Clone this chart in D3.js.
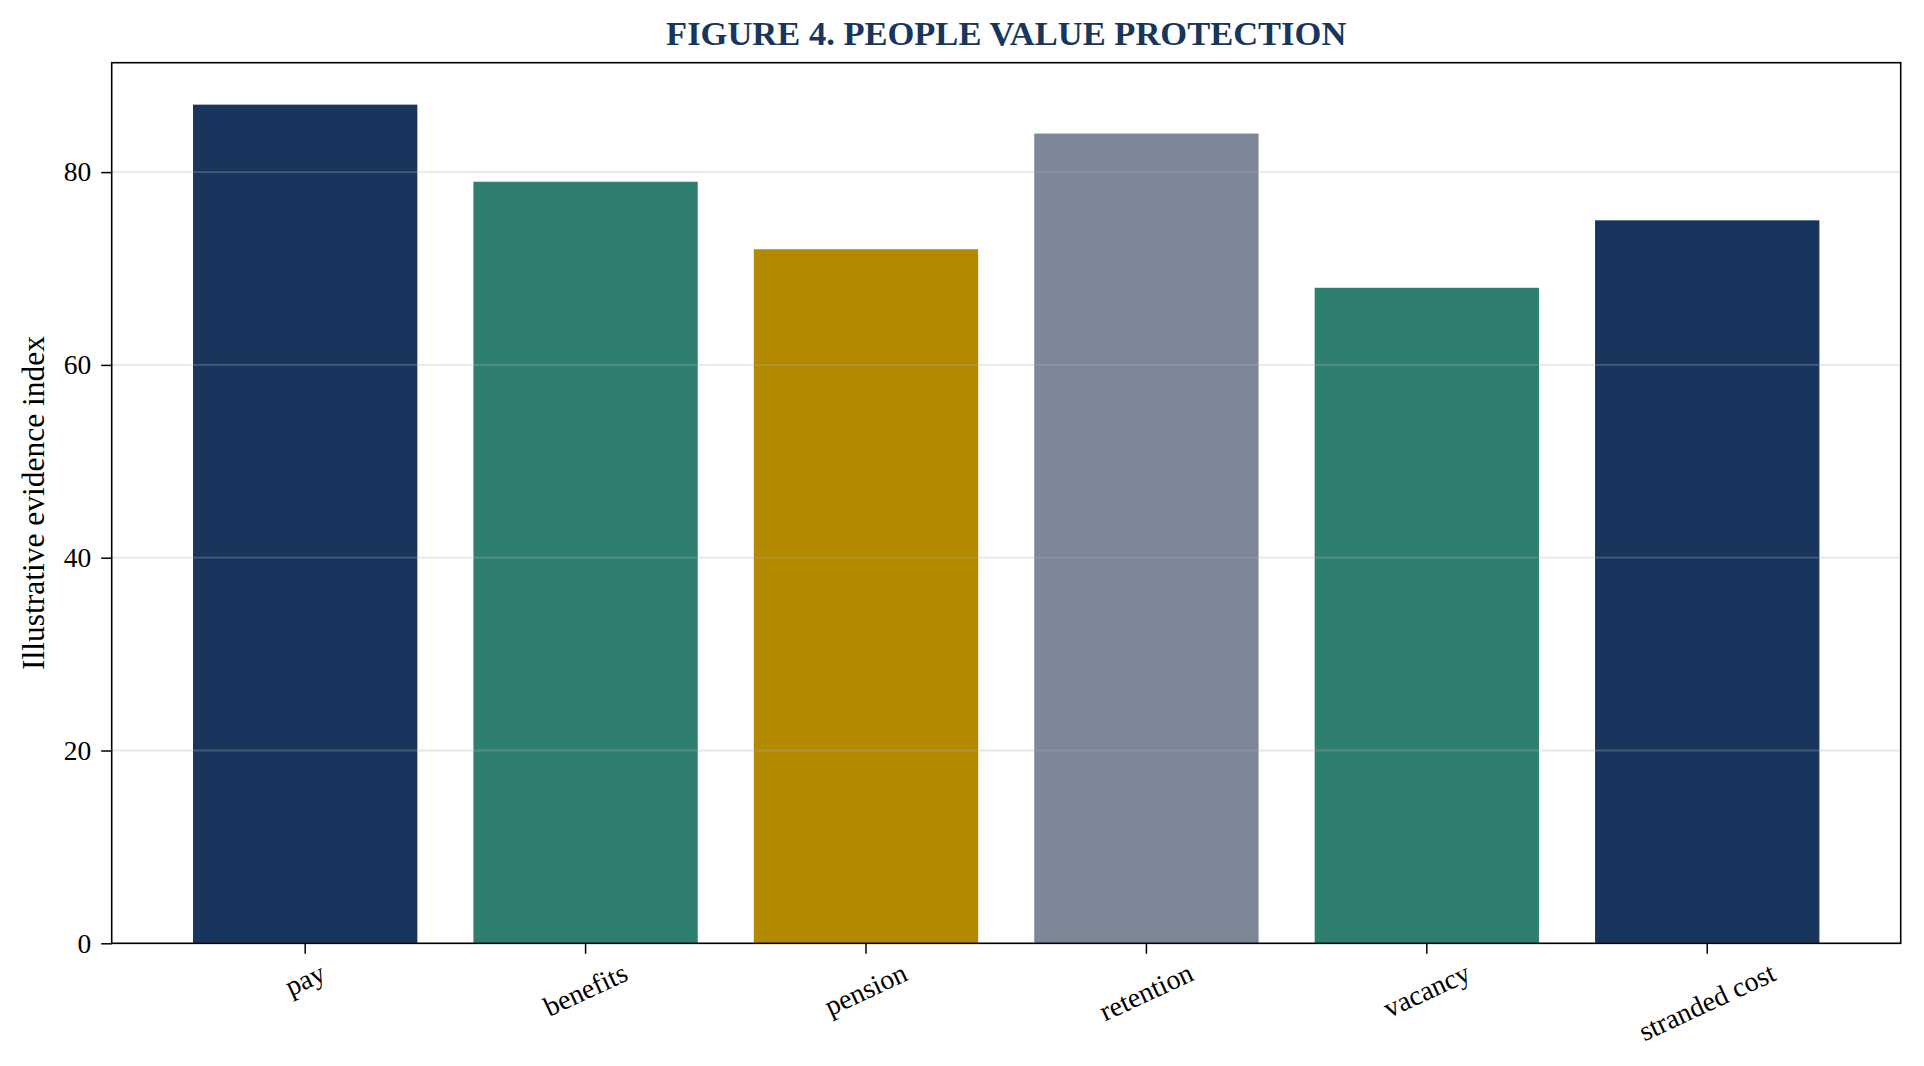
<!DOCTYPE html>
<html>
<head>
<meta charset="utf-8">
<script src="https://cdn.jsdelivr.net/npm/d3@7"></script>
<style>
  body { margin: 0; background: #fff; }
  text { font-family: "Liberation Serif", "Times New Roman", serif; fill: #000; }
</style>
</head>
<body>
<div id="chart"></div>
<script>
var svgWidth = 1924;
var svgHeight = 1066;

var margin = { top: 62.7, right: 23.3, bottom: 122.7, left: 111.7 };

const width = svgWidth - margin.left - margin.right;
const height = svgHeight - margin.top - margin.bottom;

// data
const categories = ["pay", "benefits", "pension", "retention", "vacancy", "stranded cost"];
const values = [87, 79, 72, 84, 68, 75];
const barColors = ["#18365d", "#2e7f6f", "#b38900", "#7b8797", "#2e7f6f", "#18365d"];
const yTicks = [0, 20, 40, 60, 80];

const svg = d3.select("#chart")
  .append("svg")
  .attr("width", svgWidth)
  .attr("height", svgHeight);

// title
svg.append("text")
  .attr("x", margin.left + width / 2)
  .attr("y", 45)
  .attr("text-anchor", "middle")
  .style("font-size", "34.5px")
  .style("font-weight", "bold")
  .style("fill", "#18365d")
  .text("FIGURE 4. PEOPLE VALUE PROTECTION");

const chartGroup = svg.append("g")
  .attr("transform", `translate(${margin.left}, ${margin.top})`);

// matplotlib-like placement: bar width 0.8 with 5% margins
const n = categories.length;
const xLinear = d3.scaleLinear()
  .domain([-0.4 - 0.05 * (n - 0.2), n - 0.6 + 0.05 * (n - 0.2)])
  .range([0, width]);

const yLinearScale = d3.scaleLinear()
  .domain([0, d3.max(values) * 1.05])
  .range([height, 0]);

// bars
chartGroup.selectAll("rect.bar")
  .data(values).enter()
  .append("rect")
  .attr("class", "bar")
  .attr("x", (d, i) => xLinear(i - 0.4))
  .attr("width", xLinear(0.4) - xLinear(-0.4))
  .attr("y", d => yLinearScale(d))
  .attr("height", d => height - yLinearScale(d))
  .attr("fill", (d, i) => barColors[i]);

// grid on top, faint
chartGroup.selectAll("line.grid")
  .data(yTicks).enter()
  .append("line")
  .attr("class", "grid")
  .attr("x1", 0).attr("x2", width)
  .attr("y1", d => yLinearScale(d)).attr("y2", d => yLinearScale(d))
  .attr("stroke", "#b0b0b0")
  .attr("stroke-opacity", 0.3)
  .attr("stroke-width", 1.8);

// y axis
const leftAxis = d3.axisLeft(yLinearScale).tickValues(yTicks).tickSize(10.5).tickPadding(10).tickFormat(d3.format("d"));
const yAxis = chartGroup.append("g").call(leftAxis);
yAxis.select(".domain").remove();
yAxis.selectAll("line").attr("stroke", "#000").attr("stroke-width", 1.5);
yAxis.selectAll("text").style("font-size", "27.5px").style("font-family", "Liberation Serif, serif");

// x axis ticks
const xg = chartGroup.append("g").attr("transform", `translate(0, ${height})`);
xg.selectAll("line")
  .data(categories).enter()
  .append("line")
  .attr("x1", (d, i) => xLinear(i)).attr("x2", (d, i) => xLinear(i))
  .attr("y1", 0).attr("y2", 10.5)
  .attr("stroke", "#000").attr("stroke-width", 1.5);

// rotated labels, centred under tick like ha='center'
const rot = 25 * Math.PI / 180;
const fs = 28;
xg.selectAll("text")
  .data(categories).enter()
  .append("text")
  .style("font-size", fs + "px")
  .attr("text-anchor", "middle")
  .attr("dy", "0.32em")
  .text(d => d)
  .each(function(d, i) {
    const w = this.getComputedTextLength();
    const h = fs * 1.15;
    const H = w * Math.sin(rot) + h * Math.cos(rot);
    const cx = xLinear(i);
    const cy = 10.5 + 3 + H / 2;
    d3.select(this).attr("x", cx).attr("y", cy)
      .attr("transform", `rotate(-25, ${cx}, ${cy})`);
  });

// frame
chartGroup.append("rect")
  .attr("x", 0).attr("y", 0)
  .attr("width", width).attr("height", height)
  .attr("fill", "none")
  .attr("stroke", "#000")
  .attr("stroke-width", 1.6);

// y label
svg.append("text")
  .attr("transform", `translate(33, ${margin.top + height / 2}) rotate(-90)`)
  .attr("text-anchor", "middle")
  .attr("dy", "0.35em")
  .style("font-size", "31.5px")
  .text("Illustrative evidence index");
</script>
</body>
</html>
